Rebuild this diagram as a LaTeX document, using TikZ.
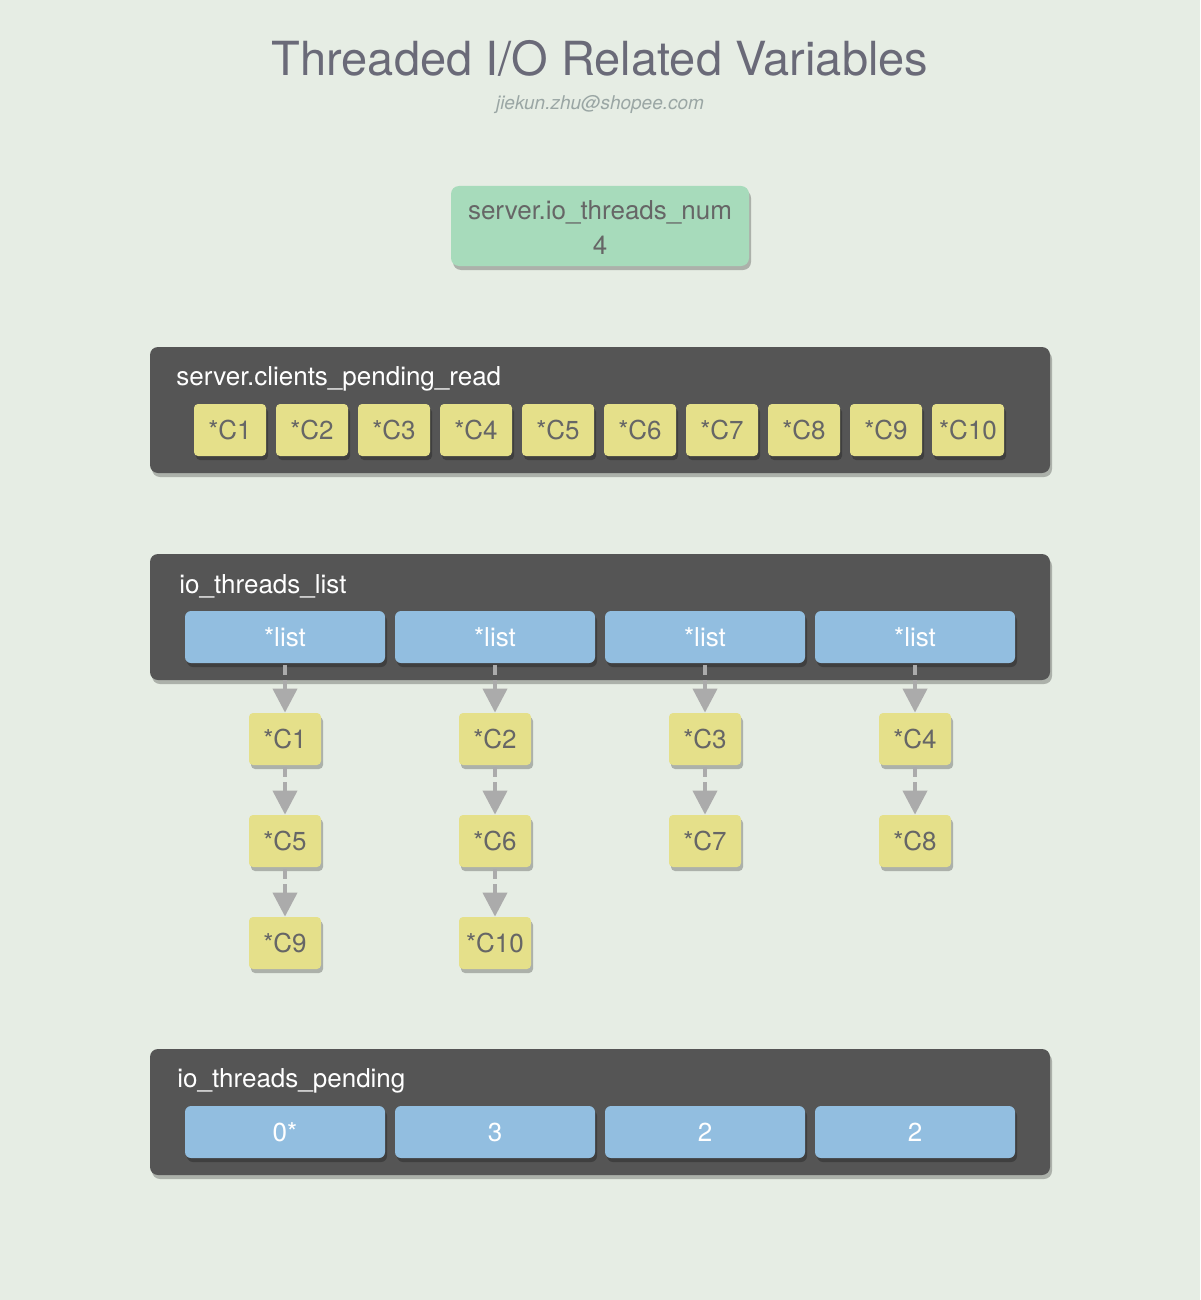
\documentclass[tikz,border=0pt]{standalone}
\usepackage{fontspec}
\setmainfont{TeX Gyre Heros}
\usetikzlibrary{arrows.meta,shadows}

\definecolor{bgcol}{HTML}{E6EDE4}
\definecolor{panelcol}{HTML}{555555}
\definecolor{numcol}{HTML}{A7DBBB}
\definecolor{clientcol}{HTML}{E5E08A}
\definecolor{listcol}{HTML}{92BEE0}
\definecolor{txtcol}{HTML}{666666}
\definecolor{titlecol}{HTML}{6A6A78}
\definecolor{mailcol}{HTML}{9AA6A4}
\definecolor{linkcol}{HTML}{ABABAB}

\tikzset{
  shade/.style={drop shadow={shadow xshift=1pt, shadow yshift=-2pt, fill=black, opacity=0.25}},
  panel/.style={shade, fill=panelcol, rounded corners=4pt, minimum width=450pt, minimum height=63pt},
  panellabel/.style={anchor=west, inner sep=0pt, text=white, font=\fontsize{13}{15}\selectfont},
  client/.style={shade, fill=clientcol, rounded corners=2pt, minimum width=36pt, minimum height=26pt,
    inner sep=0pt, text=txtcol, font=\fontsize{13}{15}\selectfont},
  slot/.style={shade, fill=listcol, rounded corners=3pt, minimum width=100pt, minimum height=26pt,
    inner sep=0pt, text=white, font=\fontsize{13}{15}\selectfont},
  link/.style={linkcol, line width=2pt, dash pattern=on 5pt off 2.5pt,
    -{Triangle[width=12pt,length=12pt]}, shorten <=1pt, shorten >=0pt},
}

\begin{document}
\begin{tikzpicture}[x=0.5pt, y=-0.5pt]
\fill[bgcol] (0,0) rectangle (1200,1300);
\useasboundingbox (0,0) rectangle (1200,1300);

% title
\draw (600,58)  node (title) [text=titlecol, font=\fontsize{23.5}{28}\selectfont] {Threaded I/O Related Variables};
\draw (600,105) node (mail)  [text=mailcol, font=\itshape\fontsize{9.5}{11}\selectfont] {jiekun.zhu@shopee.com};

% server.io_threads_num
\draw (600,226) node (numbox) [shade, fill=numcol, rounded corners=4pt, minimum width=149pt, minimum height=40pt] {};
\draw (600,228) node (numtext) [align=center, text=txtcol, font=\fontsize{13}{17.5}\selectfont] {server.io\_threads\_num\\4};

% server.clients_pending_read
\draw (600,410) node (readq) [panel] {};
\draw (176,379) node (readqlabel) [panellabel] {server.clients\_pending\_read};
\draw (230,430) node (r1)  [client] {*C1};
\draw (312,430) node (r2)  [client] {*C2};
\draw (394,430) node (r3)  [client] {*C3};
\draw (476,430) node (r4)  [client] {*C4};
\draw (558,430) node (r5)  [client] {*C5};
\draw (640,430) node (r6)  [client] {*C6};
\draw (722,430) node (r7)  [client] {*C7};
\draw (804,430) node (r8)  [client] {*C8};
\draw (886,430) node (r9)  [client] {*C9};
\draw (968,430) node (r10) [client] {*C10};

% io_threads_list
\draw (600,617) node (tlist) [panel] {};
\draw (179,586) node (tlistlabel) [panellabel] {io\_threads\_list};
\draw (285,637) node (l1) [slot] {*list};
\draw (495,637) node (l2) [slot] {*list};
\draw (705,637) node (l3) [slot] {*list};
\draw (915,637) node (l4) [slot] {*list};

\draw (285,739) node (a1)  [client] {*C1};
\draw (285,841) node (a5)  [client] {*C5};
\draw (285,943) node (a9)  [client] {*C9};
\draw (l1) -- (a1) [link];
\draw (a1) -- (a5) [link];
\draw (a5) -- (a9) [link];

\draw (495,739) node (b2)  [client] {*C2};
\draw (495,841) node (b6)  [client] {*C6};
\draw (495,943) node (b10) [client] {*C10};
\draw (l2) -- (b2) [link];
\draw (b2) -- (b6) [link];
\draw (b6) -- (b10) [link];

\draw (705,739) node (c3)  [client] {*C3};
\draw (705,841) node (c7)  [client] {*C7};
\draw (l3) -- (c3) [link];
\draw (c3) -- (c7) [link];

\draw (915,739) node (d4)  [client] {*C4};
\draw (915,841) node (d8)  [client] {*C8};
\draw (l4) -- (d4) [link];
\draw (d4) -- (d8) [link];

% io_threads_pending
\draw (600,1112) node (pend) [panel] {};
\draw (177,1081) node (pendlabel) [panellabel] {io\_threads\_pending};
\draw (285,1132) node (p1) [slot] {0*};
\draw (495,1132) node (p2) [slot] {3};
\draw (705,1132) node (p3) [slot] {2};
\draw (915,1132) node (p4) [slot] {2};

\end{tikzpicture}
\end{document}
